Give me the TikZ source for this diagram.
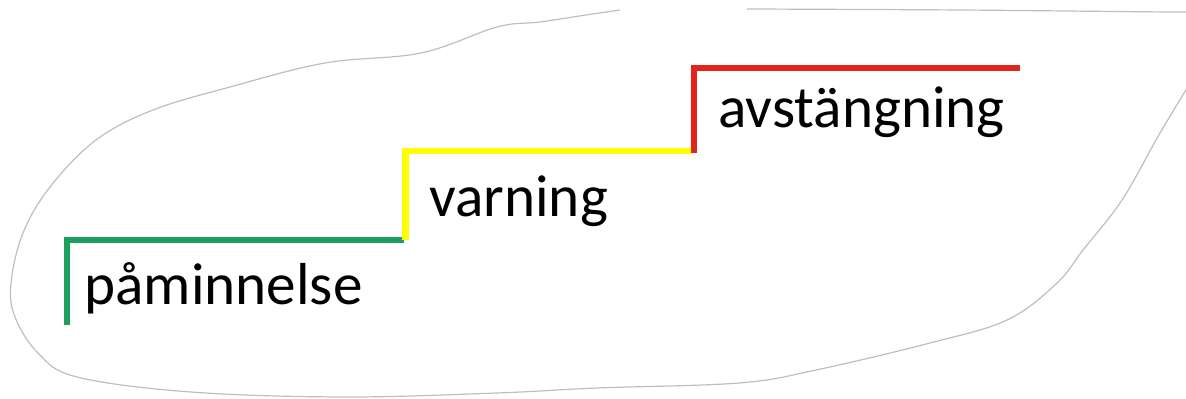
\documentclass[tikz,border=0pt]{standalone}
\usepackage{fontspec}
\setmainfont{Carlito}
\definecolor{stepgreen}{RGB}{30,158,96}
\definecolor{stepyellow}{RGB}{255,255,0}
\definecolor{stepred}{RGB}{226,36,28}
\definecolor{blobgrey}{RGB}{190,190,190}
\begin{document}
\begin{tikzpicture}[x=0.5pt,y=-0.5pt,
  stepline/.style={line width=3.2pt},
  label/.style={anchor=base west,inner sep=0pt,font=\fontsize{29.6}{35}\selectfont},
  blob/.style={draw=blobgrey,line width=0.6pt}]
\useasboundingbox (0,0) rectangle (1186,399);
\begin{scope}
\clip (0,0) rectangle (1186,399);
\draw[blob] plot[smooth,tension=0.6] coordinates {(620,10) (586,15) (540,22) (497,27) (421,53) (325,63) (230,87) (153,110) (96,140) (50,187) (23,233) (11,283) (15,317) (38,353) (77,377) (191,392) (344,397) (497,393) (597,388) (739,383) (816,370) (930,343) (1007,320) (1057,283) (1083,250) (1122,200) (1160,133) (1192,80)};
\draw[blob] plot[smooth,tension=0.5] coordinates {(747,9) (961,10) (1178,12) (1190,10)};
\end{scope}
% step corners
\coordinate (g0) at (67,325);
\coordinate (g1) at (67,240);
\coordinate (g2) at (404,240);
\coordinate (y0) at (405.5,240);
\coordinate (y1) at (405.5,151);
\coordinate (y2) at (692,151);
\coordinate (r0) at (694,153);
\coordinate (r1) at (694,68);
\coordinate (r2) at (1020,68);
\draw[stepline,stepgreen] (g0) -- (g1) -- (g2);
\draw[stepline,stepyellow] (y0) -- (y1) -- (y2);
\draw[stepline,stepred] (r0) -- (r1) -- (r2);
\node[label] (pam) at (84,305) {påminnelse};
\node[label] (varn) at (429,217) {varning};
\node[label] (avst) at (718,128) {avstängning};
\end{tikzpicture}
\end{document}
